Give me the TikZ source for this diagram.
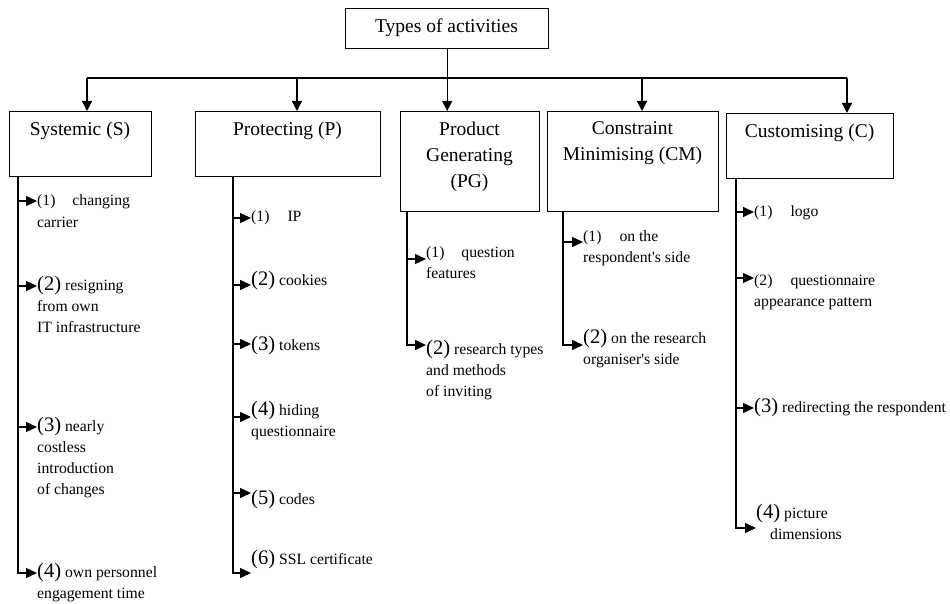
\documentclass[tikz,border=0pt]{standalone}
\usepackage{fontspec}
\setmainfont{Liberation Serif}
\usetikzlibrary{arrows.meta}
\newcommand\bn[1]{{\fontsize{20.6}{21}\selectfont(#1)}}
\newcommand\tabl[1]{\begin{tabular}[t]{@{}l@{}}#1\end{tabular}}
\newcommand\tabc[1]{\begin{tabular}[t]{@{}c@{}}#1\end{tabular}}
\tikzset{
  box/.style={draw, line width=1.4pt, inner sep=0pt, anchor=north west},
  ln/.style={line width=1.4pt},
  tarr/.style={ln, -{Triangle[length=10pt,width=10pt]}},
  iarr/.style={ln, -{Triangle[length=11pt,width=10pt]}},
  lbl/.style={font=\fontsize{19.5}{26}\selectfont, inner sep=0pt, anchor=base},
  itm/.style={font=\fontsize{15.7}{21}\selectfont, inner sep=0pt, anchor=base west},
}
\begin{document}
\begin{tikzpicture}[x=1pt,y=-1pt]
\useasboundingbox (0,0) rectangle (950,604);
% boxes
\node[box, minimum width=203pt, minimum height=40pt] (T) at (345,8) {};
\node[box, minimum width=142pt, minimum height=65pt] (S) at (9,111) {};
\node[box, minimum width=185pt, minimum height=65pt] (P) at (195,111) {};
\node[box, minimum width=139pt, minimum height=100pt] (PG) at (400,111) {};
\node[box, minimum width=171pt, minimum height=100pt] (CM) at (547,111) {};
\node[box, minimum width=167pt, minimum height=65pt] (C) at (726,113) {};
% labels
\node[lbl] (Tt) at (446.5,33) {Types of activities};
\node[lbl] (St) at (80,136) {Systemic (S)};
\node[lbl] (Pt) at (287.5,136) {Protecting (P)};
\node[lbl] (PGt) at (469.5,136) {\tabc{Product\\Generating\\(PG)}};
\node[lbl] (CMt) at (632.5,135) {\tabc{Constraint\\Minimising (CM)}};
\node[lbl] (Ct) at (809.5,138) {Customising (C)};
% top connectors
\coordinate (hS) at (87,78);
\coordinate (hP) at (297,78);
\coordinate (hCM) at (642,78);
\coordinate (hC) at (847,78);
\draw[ln] (hS) -- (hC);
\draw[tarr] (T.south) -- (T.south |- PG.north);
\draw[tarr] (hS) -- (hS |- S.north);
\draw[tarr] (hP) -- (hP |- P.north);
\draw[tarr] (hCM) -- (hCM |- CM.north);
\draw[tarr] (hC) -- (hC |- C.north);
% Systemic items
\node[itm] (s1) at (37,206) {\tabl{(1)\hspace{17pt}changing\\carrier}};
\node[itm] (s2) at (37,290) {\tabl{\bn{2} resigning\\from own\\IT infrastructure}};
\node[itm] (s3) at (37,431) {\tabl{\bn{3} nearly\\costless\\introduction\\of changes}};
\node[itm] (s4) at (37,577) {\tabl{\bn{4} own personnel\\engagement time}};
\coordinate (sL1) at (18,201);
\coordinate (sL2) at (18,286);
\coordinate (sL3) at (18,427);
\coordinate (sL4) at (18,573);
\draw[iarr] (S.south -| sL1) -- (sL4) -- (sL4 -| s4.west);
\draw[iarr] (sL1) -- (sL1 -| s1.west);
\draw[iarr] (sL2) -- (sL2 -| s2.west);
\draw[iarr] (sL3) -- (sL3 -| s3.west);
% Protecting items
\node[itm] (p1) at (251,222) {\tabl{(1)\hspace{18pt}IP}};
\node[itm] (p2) at (251,285) {\tabl{\bn{2} cookies}};
\node[itm] (p3) at (251,350) {\tabl{\bn{3} tokens}};
\node[itm] (p4) at (251,415) {\tabl{\bn{4} hiding\\questionnaire}};
\node[itm] (p5) at (251,504) {\tabl{\bn{5} codes}};
\node[itm] (p6) at (251,564) {\tabl{\bn{6} SSL certificate}};
\coordinate (pL1) at (233,218);
\coordinate (pL2) at (233,285);
\coordinate (pL3) at (233,344);
\coordinate (pL4) at (233,417);
\coordinate (pL5) at (233,493);
\coordinate (pL6) at (233,573);
\draw[iarr] (P.south -| pL1) -- (pL6) -- (pL6 -| p6.west);
\draw[iarr] (pL1) -- (pL1 -| p1.west);
\draw[iarr] (pL2) -- (pL2 -| p2.west);
\draw[iarr] (pL3) -- (pL3 -| p3.west);
\draw[iarr] (pL4) -- (pL4 -| p4.west);
\draw[iarr] (pL5) -- (pL5 -| p5.west);
% Product Generating items
\node[itm] (g1) at (426,257) {\tabl{(1)\hspace{17pt}question\\features}};
\node[itm] (g2) at (426,354) {\tabl{\bn{2} research types\\and methods\\of inviting}};
\coordinate (gL1) at (407,259);
\coordinate (gL2) at (407,345);
\draw[iarr] (PG.south -| gL1) -- (gL2) -- (gL2 -| g2.west);
\draw[iarr] (gL1) -- (gL1 -| g1.west);
% Constraint Minimising items
\node[itm] (m1) at (583,241) {\tabl{(1)\hspace{18pt}on the\\respondent\textquotesingle s side}};
\node[itm] (m2) at (583,343) {\tabl{\bn{2} on the research\\organiser\textquotesingle s side}};
\coordinate (mL1) at (563,242);
\coordinate (mL2) at (563,345);
\draw[iarr] (CM.south -| mL1) -- (mL2) -- (mL2 -| m2.west);
\draw[iarr] (mL1) -- (mL1 -| m1.west);
% Customising items
\node[itm] (c1) at (754,216) {\tabl{(1)\hspace{18pt}logo}};
\node[itm] (c2) at (754,285) {\tabl{(2)\hspace{18pt}questionnaire\\appearance pattern}};
\node[itm] (c3) at (754,412) {\tabl{\bn{3} redirecting the respondent}};
\node[itm] (c4) at (756,518) {\tabl{\bn{4} picture\\\hspace{14pt}dimensions}};
\coordinate (cL1) at (736,212);
\coordinate (cL2) at (736,278);
\coordinate (cL3) at (736,408);
\coordinate (cL4) at (736,528);
\draw[iarr] (C.south -| cL1) -- (cL4) -- (cL4 -| c4.west);
\draw[iarr] (cL1) -- (cL1 -| c1.west);
\draw[iarr] (cL2) -- (cL2 -| c2.west);
\draw[iarr] (cL3) -- (cL3 -| c3.west);
\end{tikzpicture}
\end{document}
